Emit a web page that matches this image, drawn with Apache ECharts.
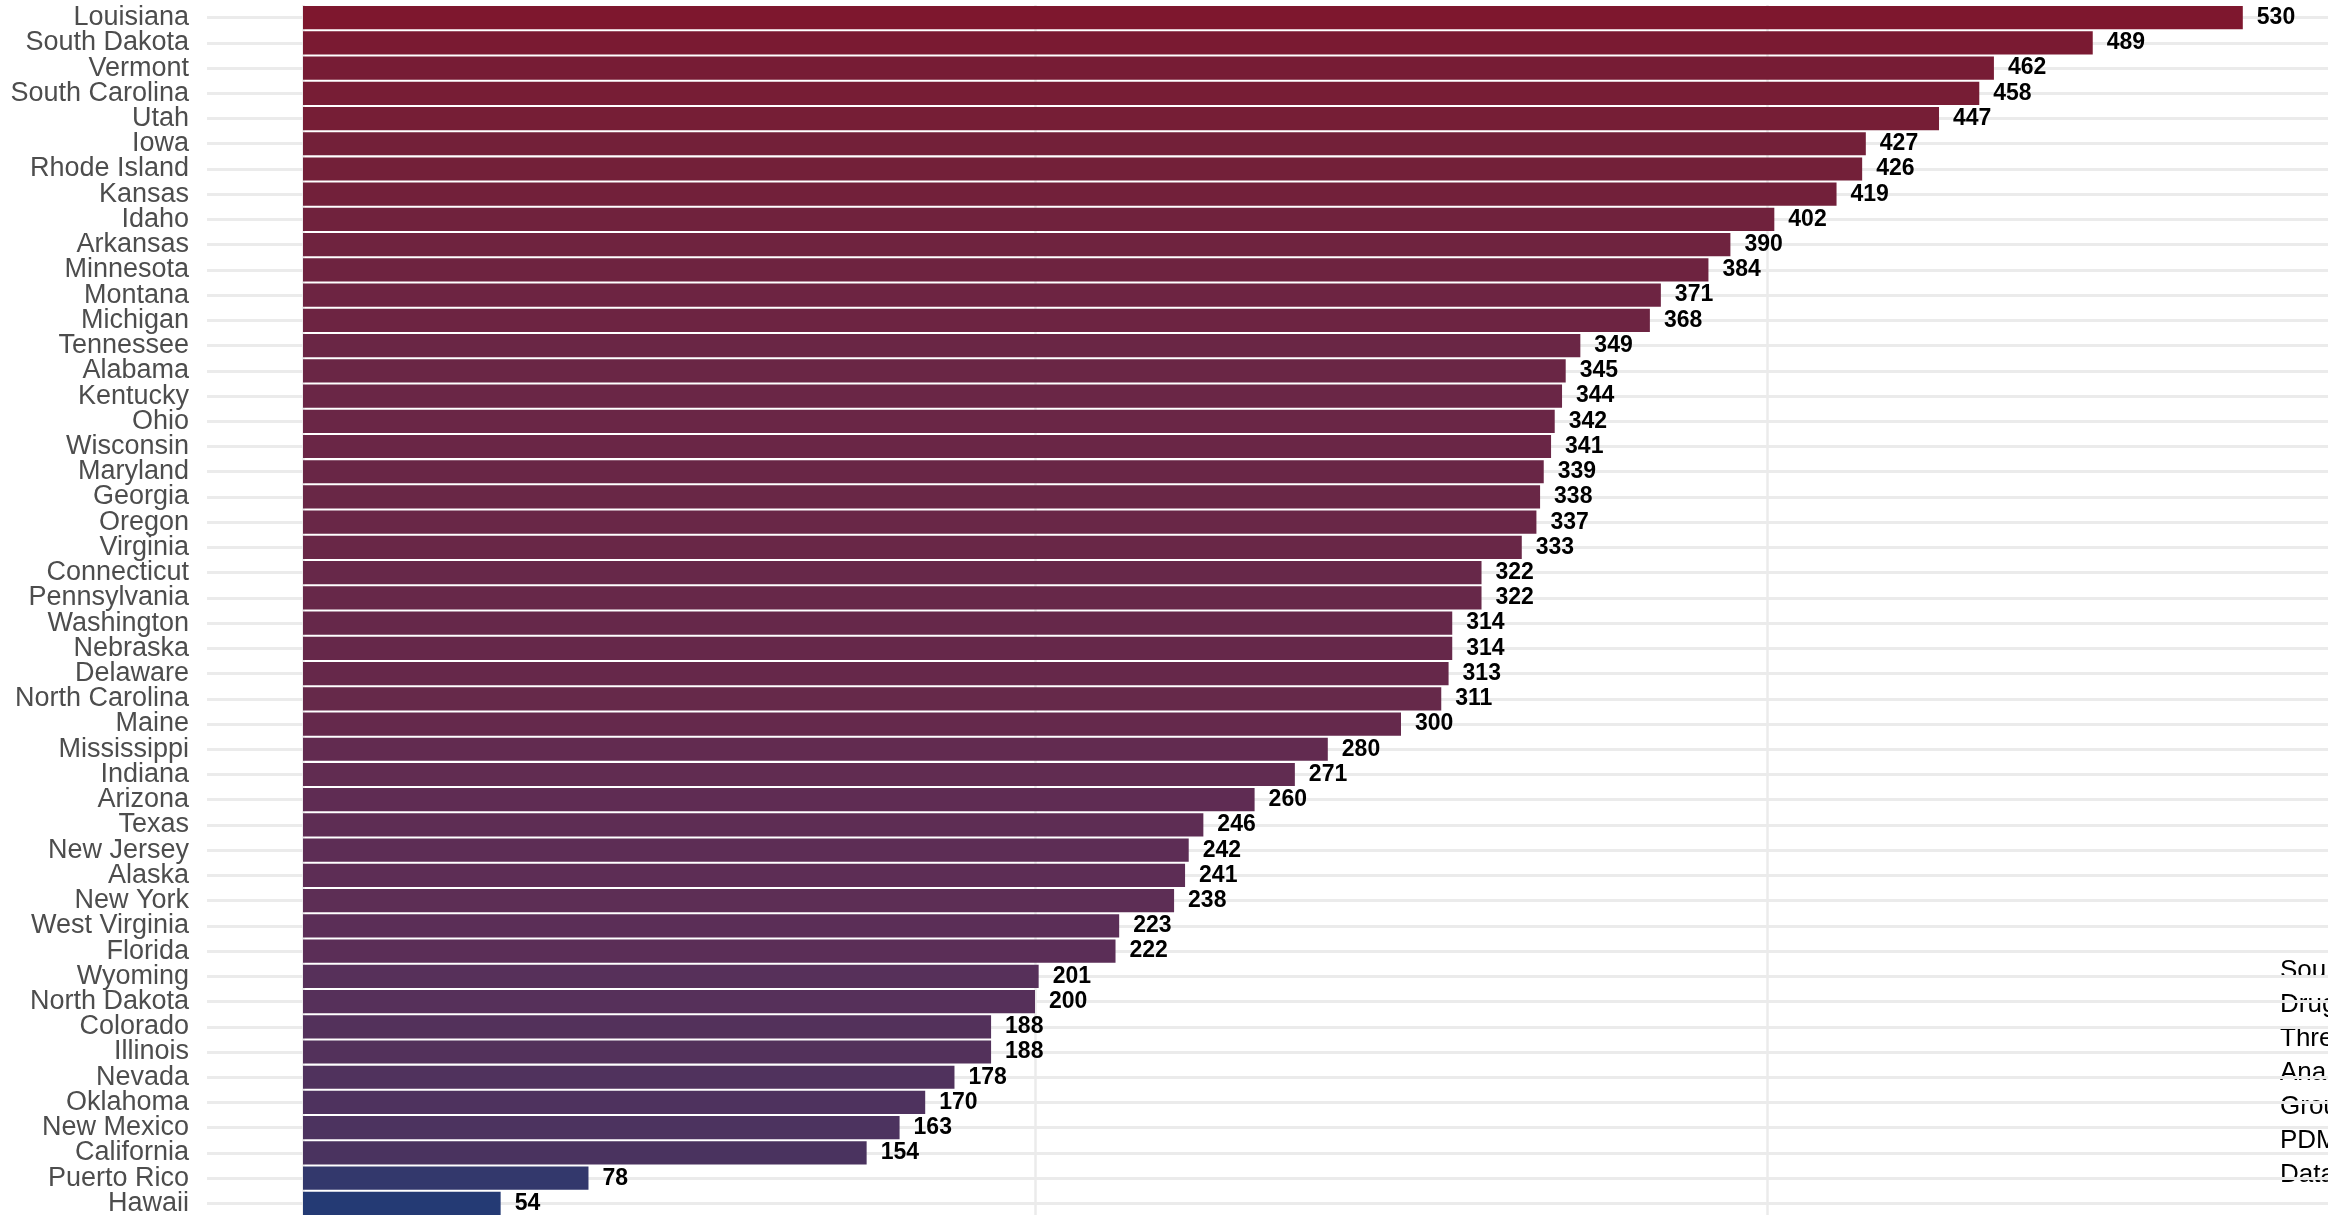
<!DOCTYPE html>
<html>
<head>
<meta charset="utf-8">
<script src="https://cdn.jsdelivr.net/npm/echarts@6/dist/echarts.min.js"></script>
<style>
  html, body { margin: 0; padding: 0; background: #fff; }
  #chart { width: 2328px; height: 1215px; }
</style>
</head>
<body>
<div id="chart"></div>
<script>
// states, top to bottom
let states = ['Louisiana','South Dakota','Vermont','South Carolina','Utah','Iowa','Rhode Island','Kansas','Idaho','Arkansas',
  'Minnesota','Montana','Michigan','Tennessee','Alabama','Kentucky','Ohio','Wisconsin','Maryland','Georgia',
  'Oregon','Virginia','Connecticut','Pennsylvania','Washington','Nebraska','Delaware','North Carolina','Maine','Mississippi',
  'Indiana','Arizona','Texas','New Jersey','Alaska','New York','West Virginia','Florida','Wyoming','North Dakota',
  'Colorado','Illinois','Nevada','Oklahoma','New Mexico','California','Puerto Rico','Hawaii']
let values = [530,489,462,458,447,427,426,419,402,390,
  384,371,368,349,345,344,342,341,339,338,
  337,333,322,322,314,314,313,311,300,280,
  271,260,246,242,241,238,223,222,201,200,
  188,188,178,170,163,154,78,54]
let captionLines = ['Source:','Drug','Threat','Analysis','Group','PDMP','Data']

let barData = []
for (let i = 0; i < states.length; i++) {
  barData.push([values[i], states[i]])
}

let chart = echarts.init(document.getElementById('chart'))
let font = "'Liberation Sans', Arial, sans-serif"
let gridColor = '#ebebeb'

let option = {
  backgroundColor: '#fff',
  animation: false,
  grid: [
    // bars (runs past the right edge, like the cropped original)
    { left: 303, top: 5, width: 2196, height: 1211, outerBoundsMode: 'none', containLabel: false },
    // horizontal grid lines through category centers
    { left: 207, top: 17.6, width: 2300, height: 1185.8, outerBoundsMode: 'none', containLabel: false }
  ],
  xAxis: [
    {
      gridIndex: 0, type: 'value', min: 0, max: 600, interval: 200,
      axisLine: { show: false }, axisTick: { show: false }, axisLabel: { show: false },
      splitLine: { show: true, lineStyle: { color: gridColor, width: 2.5 } }
    },
    {
      gridIndex: 1, type: 'value', show: false, min: 0, max: 1
    }
  ],
  yAxis: [
    {
      gridIndex: 0, type: 'category', inverse: true, data: states,
      axisLine: { show: false }, axisTick: { show: false },
      splitLine: { show: false },
      axisLabel: { margin: 114, fontSize: 27, color: '#4d4d4d', fontFamily: font, interval: 0 }
    },
    {
      gridIndex: 1, type: 'category', inverse: true, data: states, boundaryGap: false,
      axisLine: { show: false }, axisTick: { show: false, interval: 0 },
      axisLabel: { show: false, interval: 0 },
      splitLine: { show: true, interval: 0, lineStyle: { color: gridColor, width: 3 } }
    }
  ],
  visualMap: {
    show: false,
    type: 'continuous',
    seriesIndex: 0,
    dimension: 0,
    min: 54,
    max: 530,
    inRange: { color: ['#243a74', '#463562', '#4b335f', '#5a2f58', '#602c52',
      '#672849', '#6d2442', '#732039', '#791b33', '#7e172e'] }
  },
  series: [
    {
      type: 'bar',
      xAxisIndex: 0, yAxisIndex: 0,
      encode: { x: 0, y: 1 },
      data: barData,
      barCategoryGap: '8%',
      label: {
        show: true, position: 'right', distance: 14,
        fontSize: 23, fontWeight: 'bold', color: '#000', fontFamily: font,
        formatter: function (p) { return p.value[0] }
      }
    }
  ],
  graphic: [
    {
      type: 'text', left: 2280, top: 954,
      style: {
        text: captionLines.join('\n'),
        font: '26px ' + font,
        lineHeight: 34,
        fill: '#000'
      }
    }
  ]
}
chart.setOption(option)
</script>
</body>
</html>
